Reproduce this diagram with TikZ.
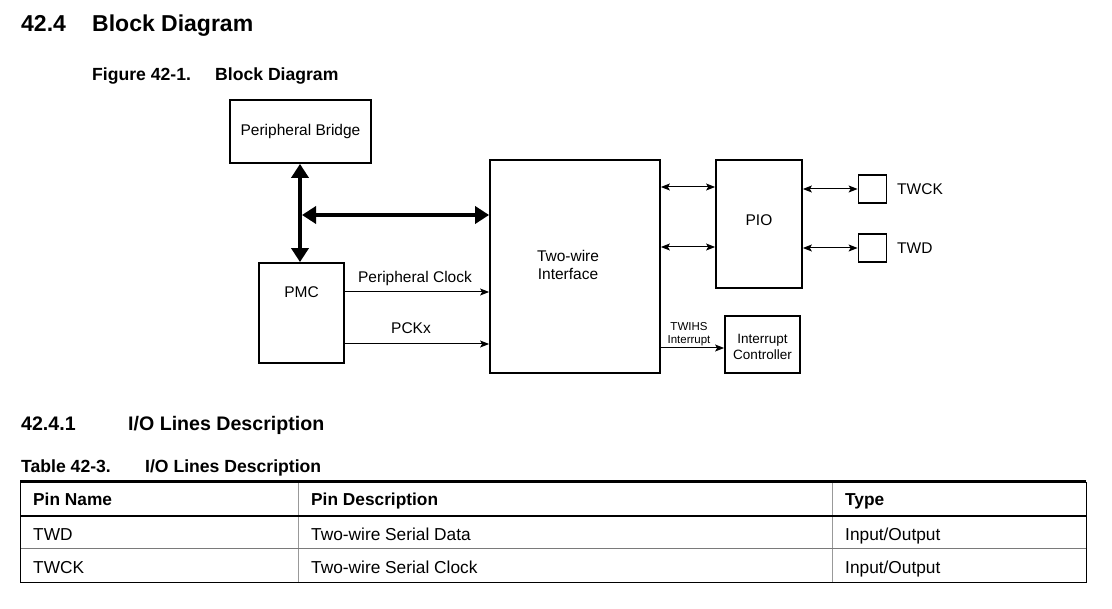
\documentclass[tikz,border=0pt]{standalone}
\usepackage{fontspec}
\setmainfont{Liberation Sans}
\usetikzlibrary{arrows.meta}
\definecolor{rulegray}{gray}{0.6}
\tikzset{
  box/.style={draw, line width=1.8pt, inner sep=0pt},
  lbl/.style={font=\fontsize{15.5}{18}\selectfont, inner sep=0pt, align=center},
  small/.style={font=\fontsize{11.5}{13}\selectfont, inner sep=0pt, align=center},
  bus/.style={line width=4pt, {Triangle[length=14pt,width=17pt]}-{Triangle[length=14pt,width=17pt]}},
  thin2/.style={line width=1pt, {Stealth[length=9pt,width=7pt,inset=2pt]}-{Stealth[length=9pt,width=7pt,inset=2pt]}},
  thin1/.style={line width=1pt, -{Stealth[length=9pt,width=7pt,inset=2pt]}},
  hd/.style={anchor=base west, inner sep=0pt},
  cell/.style={anchor=base west, inner sep=0pt, font=\fontsize{17.3}{20}\selectfont},
  cellb/.style={anchor=base west, inner sep=0pt, font=\fontsize{17.3}{20}\selectfont\bfseries},
}
\begin{document}
\begin{tikzpicture}[x=1pt,y=-1pt]
\useasboundingbox (0,0) rectangle (1112,609);
% headings
\node[hd, font=\fontsize{23}{27}\selectfont\bfseries] (h1) at (21,32) {42.4};
\node[hd, font=\fontsize{23}{27}\selectfont\bfseries] (h1b) at (92,32) {Block Diagram};
\node[hd, font=\fontsize{17.6}{20}\selectfont\bfseries] (f1) at (92,81) {Figure 42-1.};
\node[hd, font=\fontsize{17.6}{20}\selectfont\bfseries] (f1b) at (215,81) {Block Diagram};
% blocks
\node[box, minimum width=141, minimum height=63] (pb) at (300.5,131.5) {};
\node[lbl] (pbt) at (300.5,131) {Peripheral Bridge};
\node[box, minimum width=85, minimum height=100] (pmc) at (301.5,313) {};
\node[lbl] (pmct) at (301.5,292) {PMC};
\node[box, minimum width=170, minimum height=213] (twi) at (575,266.5) {};
\node[lbl] (twit) at (568,265) {Two-wire\\Interface};
\node[box, minimum width=86, minimum height=128] (pio) at (759,224) {};
\node[lbl] (piot) at (759,220) {PIO};
\node[box, minimum width=75, minimum height=57] (ic) at (762.5,344.5) {};
\node[lbl, font=\fontsize{13.5}{16}\selectfont] (ict) at (762.5,347) {Interrupt\\Controller};
\node[box, minimum width=28, minimum height=28] (pck) at (872.5,189) {};
\node[box, minimum width=28, minimum height=28] (pd) at (872.5,248) {};
\node[lbl, anchor=west] (tck) at (897,189) {TWCK};
\node[lbl, anchor=west] (td) at (897,248) {TWD};
% bus
\coordinate (j) at (300,215);
\draw[bus] (pb.south -| j) -- (pmc.north -| j);
\draw[bus] ([xshift=2pt]j) -- (twi.west |- j);
% clocks
\draw[thin1] (pmc.east |- 0,292) -- (twi.west |- 0,292);
\node[lbl] (pclk) at (415,278) {Peripheral Clock};
\draw[thin1] (pmc.east |- 0,344) -- (twi.west |- 0,344);
\node[lbl] (pckx) at (411,328) {PCKx};
% PIO links
\draw[thin2] (twi.east |- 0,187) -- (pio.west |- 0,187);
\draw[thin2] (twi.east |- 0,247) -- (pio.west |- 0,247);
\draw[thin2] (pio.east |- pck) -- (pck.west);
\draw[thin2] (pio.east |- pd) -- (pd.west);
% interrupt
\draw[thin1] (twi.east |- 0,348) -- (ic.west |- 0,348);
\node[small] (irq) at (689,334) {TWIHS\\Interrupt};
% section heading
\node[hd, font=\fontsize{19.6}{23}\selectfont\bfseries] (h2) at (21,431) {42.4.1};
\node[hd, font=\fontsize{19.6}{23}\selectfont\bfseries] (h2b) at (128,431) {I/O Lines Description};
\node[hd, font=\fontsize{17.6}{20}\selectfont\bfseries] (t1) at (21,473) {Table 42-3.};
\node[hd, font=\fontsize{17.6}{20}\selectfont\bfseries] (t1b) at (145,473) {I/O Lines Description};
% table
\draw[rulegray, line width=1pt] (298,482) -- (298,582);
\draw[rulegray, line width=1pt] (832,482) -- (832,582);
\draw[rulegray!80!black, line width=1pt] (20,549) -- (1086,549);
\draw[line width=1pt] (20,482) -- (20,582) -- (1086,582) -- (1086,482);
\draw[line width=3pt] (20,482) -- (1086,482);
\draw[line width=2pt] (20,516) -- (1086,516);
\node[cellb] (c11) at (33,506) {Pin Name};
\node[cellb] (c12) at (311,506) {Pin Description};
\node[cellb] (c13) at (845,506) {Type};
\node[cell] (c21) at (33,540) {TWD};
\node[cell] (c22) at (311,540) {Two-wire Serial Data};
\node[cell] (c23) at (845,540) {Input/Output};
\node[cell] (c31) at (33,573) {TWCK};
\node[cell] (c32) at (311,573) {Two-wire Serial Clock};
\node[cell] (c33) at (845,573) {Input/Output};
\end{tikzpicture}
\end{document}
